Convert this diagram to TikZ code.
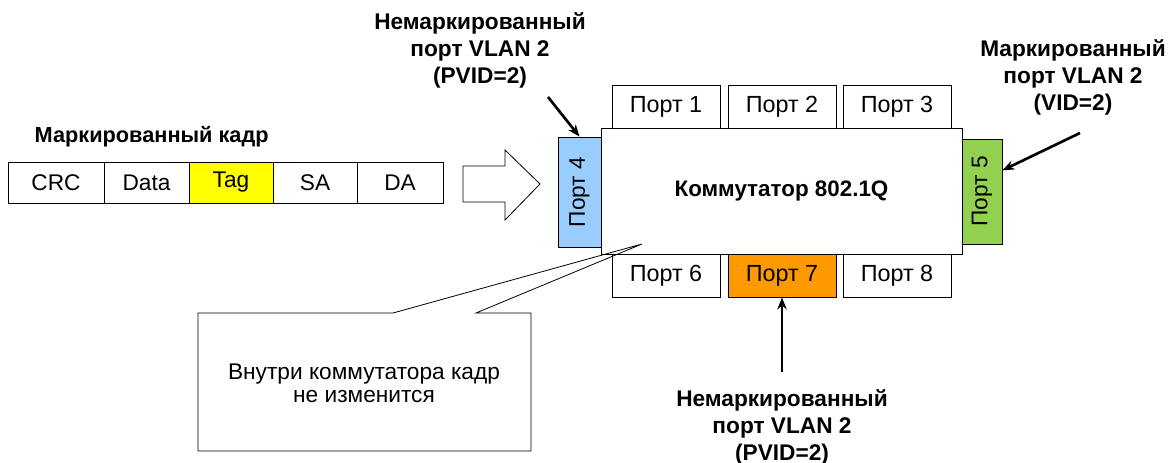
\documentclass[tikz,border=0pt]{standalone}
\usepackage{fontspec}
\setmainfont{Liberation Sans}
\usetikzlibrary{arrows.meta,calc}

\definecolor{tagyellow}{RGB}{255,255,0}
\definecolor{portblue}{RGB}{153,204,255}
\definecolor{portgreen}{RGB}{146,208,80}
\definecolor{portorange}{RGB}{255,153,0}

\tikzset{
    field/.style={draw, line width=0.6pt, minimum height=30.75pt, inner sep=0pt,
        font=\fontsize{17}{19}\selectfont},
    portbox/.style={draw, line width=0.6pt, fill=white, minimum width=81pt,
        minimum height=32.25pt, inner sep=0pt, font=\fontsize{17.5}{19}\selectfont},
    sideport/.style={draw, line width=0.6pt, minimum width=31pt,
        minimum height=81pt, inner sep=0pt},
    porttext/.style={rotate=90, font=\fontsize{17}{19}\selectfont},
    boldlbl/.style={align=center, font=\fontsize{17}{20.25}\selectfont\bfseries},
    pointer/.style={line width=2pt, -{Stealth[length=9pt,width=7pt]}}
}

\begin{document}
\begin{tikzpicture}[x=0.75pt, y=-0.75pt]

    % Canvas (pixel coordinates of the reference)
    \useasboundingbox (0,0) rectangle (1172,463);

    % Tagged frame
    \node[anchor=west, font=\fontsize{16.3}{18}\selectfont\bfseries] (title) at (30,137) {Маркированный кадр};
    \foreach \cx/\w/\txt/\col/\nm in {56/72/CRC/white/f1, 146.5/63.75/Data/white/f2,
        231/63/Tag/tagyellow/f3, 315/63/SA/white/f4, 400/64.5/DA/white/f5}
        \node[field, fill=\col, minimum width=\w pt] (\nm) at (\cx,182.5) {\txt};

    % Hollow arrow towards the switch
    \draw[line width=0.6pt] (463,166) -- (505,166) -- (505,150) -- (540,184)
        -- (505,220) -- (505,202) -- (463,202) -- cycle;

    % Top and bottom ports
    \node[portbox] (p1) at (666,106.5) {Порт 1};
    \node[portbox] (p2) at (782,106.5) {Порт 2};
    \node[portbox] (p3) at (897,106.5) {Порт 3};
    \node[portbox] (p6) at (666,275.5) {Порт 6};
    \node[portbox, fill=portorange] (p7) at (782,275.5) {Порт 7};
    \node[portbox] (p8) at (897,275.5) {Порт 8};

    % Switch body
    \node[draw, line width=0.6pt, fill=white, minimum width=270.75pt, minimum height=94.5pt,
        font=\fontsize{16.8}{18}\selectfont\bfseries] (sw) at (781.5,191) {Коммутатор 802.1Q};

    % Side ports
    \node[sideport, fill=portblue, minimum width=32.25pt, minimum height=82.5pt] (p4) at (579.5,192) {};
    \node[porttext] (t4) at (p4) {Порт 4};
    \node[sideport, fill=portgreen, minimum width=30pt, minimum height=78.75pt] (p5) at (982,191.5) {};
    \node[porttext] (t5) at (p5) {Порт 5};

    % Labels
    \node[boldlbl] (lblA) at (480,50) {Немаркированный\\порт VLAN 2\\(PVID=2)};
    \node[boldlbl] (lblB) at (1073,77) {Маркированный\\порт VLAN 2\\(VID=2)};
    \node[boldlbl] (lblC) at (782,427) {Немаркированный\\порт VLAN 2\\(PVID=2)};

    % Pointers
    \coordinate (a0) at (548,97);
    \coordinate (b0) at (1080,133);
    \draw[pointer] (a0) -- (p4.north);
    \draw[pointer] (b0) -- ($(p5.north east)!0.3!(p5.south east)$);
    \draw[pointer] ($(p7.south)+(0,75)$) -- (p7.south);

    % Callout
    \draw[line width=0.6pt] (198,313) -- (393,313) -- (642,244) -- (476,313)
        -- (531,313) -- (531,451) -- (198,451) -- cycle;
    \node[align=center, font=\fontsize{17}{17.25}\selectfont] (note) at (364,383)
        {Внутри коммутатора кадр\\не изменится};

\end{tikzpicture}
\end{document}
